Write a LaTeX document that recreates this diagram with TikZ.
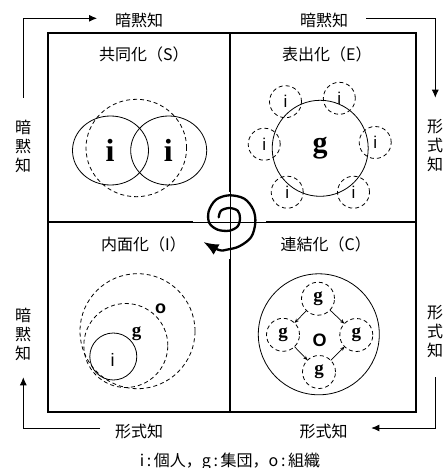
\documentclass[tikz,border=0pt]{standalone}
\usepackage{fontspec}
\newfontfamily\cjk{Noto Sans CJK JP}
\newfontfamily\lserif{Liberation Serif}
\newfontfamily\lsans{Liberation Sans}
\usetikzlibrary{arrows.meta,shapes.geometric}
\tikzset{
  frame/.style={line width=2pt},
  thinline/.style={line width=1pt},
  ring/.style={draw, line width=0.8pt, inner sep=0pt, outer sep=0pt},
  dring/.style={ring, dash pattern=on 4pt off 3pt},
  cjklab/.style={font=\cjk\fontsize{16}{19}\selectfont, inner sep=0pt},
  vlab/.style={cjklab, align=center},
  flow/.style={line width=0.8pt, -{Latex[length=8pt,width=7pt]}},
  garrow/.style={line width=0.7pt, -{Stealth[length=4.5pt,width=3.5pt]}},
  spiral/.style={line width=2.3pt, line cap=round, line join=round, -{Latex[length=15pt,width=12pt]}},
  serS/.style={font=\lserif\bfseries\fontsize{32}{32}\selectfont},
  serE/.style={font=\lserif\bfseries\fontsize{30}{30}\selectfont},
  serM/.style={font=\lserif\bfseries\fontsize{19}{19}\selectfont},
  sansi/.style={font=\lsans\fontsize{17}{17}\selectfont},
  sansI/.style={font=\lsans\fontsize{18}{18}\selectfont},
  sansB/.style={font=\lsans\bfseries\fontsize{18}{18}\selectfont},
}
\begin{document}
\begin{tikzpicture}[x=1pt,y=-1pt]
\useasboundingbox[fill=white] (0,0) rectangle (446,468);

% frame and cross
\draw[frame] (48,33) rectangle (416,412);
\draw[frame] (230,33) -- (230,412);
\draw[frame] (48,222) -- (416,222);

% spiral box
\fill[white] (193,192) rectangle (266,259);
\draw[thinline] (193,222.3) -- (266,222.3);
\draw[thinline] (230.3,192) -- (230.3,259);
\draw[spiral] plot[smooth, tension=0.55] coordinates {
 (218.7,217.3) (221,210.7) (229.3,208) (237.7,210.7) (240,218) (237.7,226.3)
 (229.3,230.7) (217.7,229.7) (209.3,223) (208.7,211.3) (216,199.7) (229.3,195.3)
 (244.3,198.7) (253.3,209.7) (255.3,223) (251,237.3) (239.3,246.3) (227.7,249.5)
 (219,250) (203.5,242)};

% outer flow arrows
\coordinate (tlA) at (23.3,98);
\coordinate (tlB) at (97,18.3);
\coordinate (trA) at (366.3,18.3);
\coordinate (trB) at (435.3,97.7);
\coordinate (blA) at (100,428);
\coordinate (blB) at (23.3,377.3);
\coordinate (brA) at (435.3,377.3);
\coordinate (brB) at (371.3,428);
\draw[flow] (tlA) |- (tlB);
\draw[flow] (trA) -| (trB);
\draw[flow] (blA) -| (blB);
\draw[flow] (brA) |- (brB);

% outer labels
\node[cjklab] (lTL) at (139,20) {暗黙知};
\node[cjklab] (lTR) at (324,20) {暗黙知};
\node[cjklab] (lBL) at (139,431) {形式知};
\node[cjklab] (lBR) at (323.5,431) {形式知};
\node[vlab] (vTL) at (23,146) {暗\\黙\\知};
\node[vlab] (vTR) at (435,145.5) {形\\式\\知};
\node[vlab] (vBL) at (23,334) {暗\\黙\\知};
\node[vlab] (vBR) at (435,332) {形\\式\\知};
\node[cjklab] (note) at (230,462) {i\,:\,個人，g\,:\,集団，o\,:\,組織};

% quadrant titles
\node[cjklab, anchor=west] (tS) at (99,54) {共同化（S）};
\node[cjklab, anchor=west] (tE) at (282,54) {表出化（E）};
\node[cjklab, anchor=west] (tI) at (101,244) {内面化（I）};
\node[cjklab, anchor=west] (tC) at (280.5,244) {連結化（C）};

% S quadrant
\node[ring, ellipse, minimum width=76pt, minimum height=69pt] (s1) at (110.5,150.5) {};
\node[ring, ellipse, minimum width=76pt, minimum height=69pt] (s2) at (168.7,150.5) {};
\node[dring, ellipse, minimum width=100.6pt, minimum height=97.4pt] (s0) at (136.3,148) {};
\node[serS, inner sep=0pt] (si1) at (110,150.5) {i};
\node[serS, inner sep=0pt] (si2) at (168.3,150.5) {i};

% E quadrant
\node[ring, circle, minimum size=96pt, serE] (gE) at (320.2,148.3) {g};
\node[dring, circle, minimum size=32pt, sansi] (e1) at (285.5,101.7) {i};
\node[dring, circle, minimum size=32pt, sansi] (e2) at (339.3,98.3) {i};
\node[dring, circle, minimum size=32pt, sansi] (e3) at (264.2,144.2) {i};
\node[dring, circle, minimum size=32pt, sansi] (e4) at (375.2,142.5) {i};
\node[dring, circle, minimum size=32pt, sansi] (e5) at (287.2,192.2) {i};
\node[dring, circle, minimum size=32pt, sansi] (e6) at (353.5,192.2) {i};

% I quadrant
\node[dring, circle, minimum size=115pt] (Io) at (137.5,331.2) {};
\node[dring, circle, minimum size=84pt] (Ig) at (125.8,345.5) {};
\node[ring, circle, minimum size=47pt] (Ii) at (113.3,356.5) {};
\node[sansI, inner sep=0pt] (Iil) at (112.7,360) {i};
\node[serM, inner sep=0pt] (Igl) at (136.7,334) {g};
\node[sansB, inner sep=0pt] (Iol) at (160.7,309) {o};

% C quadrant
\node[ring, circle, minimum size=121pt] (Co) at (318.8,334.3) {};
\node[sansB, inner sep=0pt] (Col) at (319.7,340.7) {O};
\node[dring, circle, minimum size=33pt, serM] (gt) at (318,298.7) {g};
\node[dring, circle, minimum size=33pt, serM] (gl) at (283,334.8) {g};
\node[dring, circle, minimum size=33pt, serM] (gr) at (356.3,335) {g};
\node[dring, circle, minimum size=33pt, serM] (gb) at (319,372) {g};
\draw[garrow] (gt) -- (gl);
\draw[garrow] (gt) -- (gr);
\draw[garrow] (gl) -- (gb);
\draw[garrow] (gb) -- (gr);
\end{tikzpicture}
\end{document}
